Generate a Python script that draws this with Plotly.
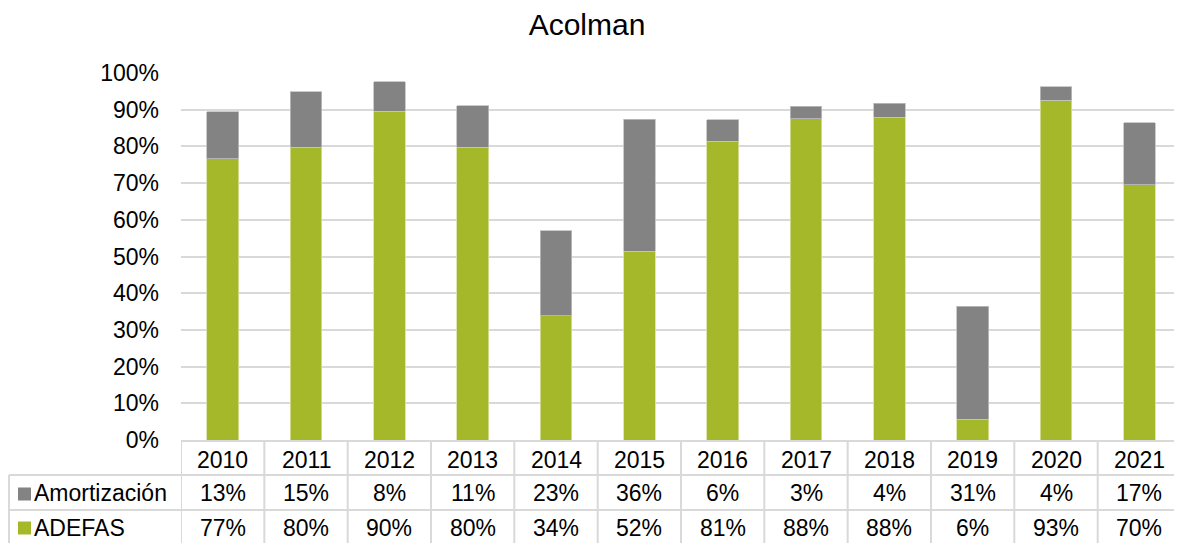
import plotly.graph_objects as go

years = ["2010", "2011", "2012", "2013", "2014", "2015", "2016", "2017", "2018", "2019", "2020", "2021"]
adefas = [76.6, 79.8, 89.6, 79.8, 33.8, 51.5, 81.4, 87.6, 87.9, 5.6, 92.6, 69.5]
amortizacion = [12.9, 15.1, 8.0, 11.3, 23.2, 35.9, 5.9, 3.4, 3.8, 30.9, 3.6, 16.9]

GREEN = "#A5B82A"
GRAY = "#838383"
GRID = "#D9D9D9"
FONT = "Liberation Sans, Arial, sans-serif"

# page has an 8px body margin; design in reference pixel coords and shift by OFF
OFF = 8
xs = list(range(len(years)))
fig = go.Figure()
fig.add_trace(go.Bar(x=xs, y=[v / 100 for v in adefas], name="ADEFAS",
                     marker=dict(color=GREEN, line=dict(color="#D8E0A0", width=0.8)), width=0.38))
fig.add_trace(go.Bar(x=xs, y=[v / 100 for v in amortizacion], name="Amortización",
                     marker=dict(color=GRAY, line=dict(color="#BFBFBF", width=0.8)), width=0.38))

W, H = 1182 - OFF, 543 - OFF
L, R, T = 181 - OFF, 1, 73 - OFF
B = H - (440 - OFF)
pw, ph = W - L - R, H - T - B


def py(pix):
    return (440 - pix) / ph


def px(pix):
    return (pix - 181) / pw


shapes = []
annotations = []
row_top = 441
row1 = 475
row2 = 510
row_bot = 543
TXT = dict(size=23, color="#000", family=FONT)

shapes.append(dict(type="line", xref="paper", yref="paper", x0=0, x1=1, y0=py(row_top), y1=py(row_top),
                   line=dict(color=GRID, width=2)))
for yy in (row1, row2):
    shapes.append(dict(type="line", xref="paper", yref="paper", x0=px(9), x1=1, y0=py(yy), y1=py(yy),
                       line=dict(color=GRID, width=2)))
for i in range(len(years) + 1):
    shapes.append(dict(type="line", xref="x", yref="paper", x0=i - 0.5, x1=i - 0.5, y0=py(row_top), y1=py(row_bot),
                       line=dict(color=GRID, width=2)))
shapes.append(dict(type="line", xref="paper", yref="paper", x0=px(9), x1=px(9), y0=py(row1), y1=py(row_bot),
                   line=dict(color=GRID, width=2)))

# legend keys
for yc, col in (((row1 + row2) / 2, GRAY), ((row2 + row_bot) / 2, GREEN)):
    shapes.append(dict(type="rect", xref="paper", yref="paper", x0=px(18), x1=px(31), y0=py(yc + 8), y1=py(yc - 5),
                       fillcolor=col, line=dict(width=0)))

annotations.append(dict(xref="paper", yref="paper", x=px(32), y=py((row1 + row2) / 2 + 1), text="Amortización",
                        showarrow=False, xanchor="left", yanchor="middle", font=TXT))
annotations.append(dict(xref="paper", yref="paper", x=px(32), y=py((row2 + row_bot) / 2 + 1), text="ADEFAS",
                        showarrow=False, xanchor="left", yanchor="middle", font=TXT))

for i, yr in enumerate(years):
    annotations.append(dict(xref="x", yref="paper", x=i, y=py(459.5), text=yr, showarrow=False,
                            yanchor="middle", font=TXT))
    annotations.append(dict(xref="x", yref="paper", x=i, y=py(493.5), text=f"{amortizacion[i]:.0f}%",
                            showarrow=False, yanchor="middle", font=TXT))
    annotations.append(dict(xref="x", yref="paper", x=i, y=py(527.5), text=f"{adefas[i]:.0f}%",
                            showarrow=False, yanchor="middle", font=TXT))

fig.update_layout(
    width=W, height=H, barmode="stack", showlegend=False,
    margin=dict(l=L, r=R, t=T, b=B),
    paper_bgcolor="white", plot_bgcolor="white",
    title=dict(text="Acolman", x=(587 - OFF) / W, xanchor="center", y=1 - (24 - OFF) / H, yanchor="middle",
               font=dict(size=30, color="#000", family=FONT)),
    xaxis=dict(range=[-0.5, len(years) - 0.5], showticklabels=False, showgrid=False, zeroline=False, showline=False),
    yaxis=dict(range=[0, 1], dtick=0.1, tickformat=".0%", showgrid=True, gridcolor=GRID, gridwidth=2,
               zeroline=False, showline=False, ticks="", ticklabelstandoff=21,
               tickfont=TXT),
    shapes=shapes, annotations=annotations,
    font=dict(family=FONT),
)

fig.write_html("out.html")
